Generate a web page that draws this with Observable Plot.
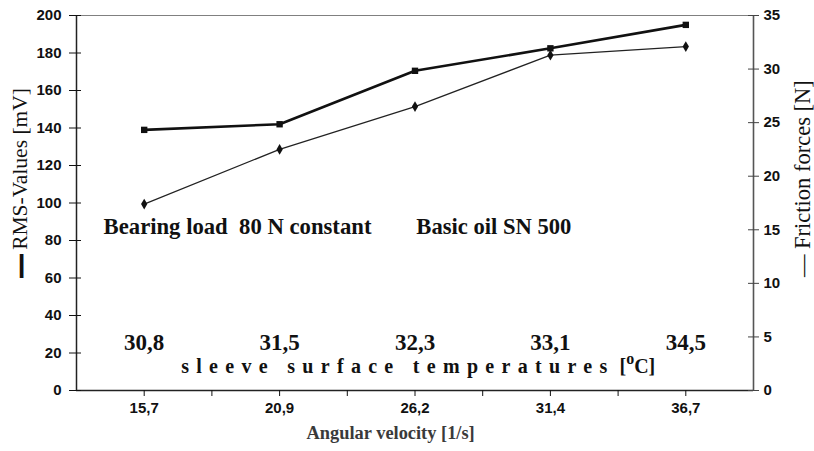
<!DOCTYPE html>
<html><head><meta charset="utf-8">
<script src="https://cdn.jsdelivr.net/npm/d3@7"></script>
<script src="https://cdn.jsdelivr.net/npm/@observablehq/plot@0.6"></script>
<style>
body{margin:0;background:#fff}
svg{display:block}
svg text{white-space:pre}
</style>
</head><body><div id="chart"></div>
<script>
// ---- data ----
const velocities = ["15,7", "20,9", "26,2", "31,4", "36,7"];
const temperatures = ["30,8", "31,5", "32,3", "33,1", "34,5"];
const rmsValues = [139, 142, 170.5, 182.5, 195];
const frictionValues = [17.4, 22.5, 26.5, 31.3, 32.1];
const rmsTicks = [0, 20, 40, 60, 80, 100, 120, 140, 160, 180, 200];
const frictionTicks = [0, 5, 10, 15, 20, 25, 30, 35];
const rmsMax = 200, frictionMax = 35;
const noteLoad = "Bearing load  80 N constant";
const noteOil = "Basic oil SN 500";
const tempTitle = "sleeve surface temperatures";
const tempUnit = "[oC]";
const xTitle = "Angular velocity [1/s]";
const yLeftTitle = "— RMS-Values [mV]";
const yRightTitle = "— Friction forces [N]";

// ---- derived tables ----
const toLeft = v => v * rmsMax / frictionMax;
const rmsData = velocities.map((v, i) => ({i, value: rmsValues[i]}));
const fricData = velocities.map((v, i) => ({i, value: toLeft(frictionValues[i])}));
const xTicks = d3.range(0, 4.01, 0.5);
const rightTicks = frictionTicks.map(toLeft);

const serif = "Liberation Serif, Times New Roman, serif";
const sans = "Liberation Sans, Arial, sans-serif";

const chart = Plot.plot({
  width: 814, height: 451,
  marginLeft: 76, marginRight: 61, marginTop: 15, marginBottom: 61,
  x: {type: "linear", domain: [-0.5, 4.5]},
  y: {domain: [0, rmsMax]},
  style: {background: "white", color: "#111", overflow: "visible"},
  marks: [
    Plot.ruleY([rmsMax], {stroke: "#808080", strokeWidth: 1.2}),
    Plot.ruleX([4.5], {stroke: "#555", strokeWidth: 1.6}),
    Plot.ruleY([0], {stroke: "#222", strokeWidth: 1.5}),
    Plot.ruleX([-0.5], {stroke: "#222", strokeWidth: 1.5}),
    // x axis
    Plot.axisX(xTicks, {tickSize: 6, tickPadding: 6, label: null,
      tickFormat: d => Number.isInteger(d) ? velocities[d] : "",
      fontSize: 15, fontWeight: "bold", fontFamily: sans}),
    // left axis
    Plot.axisY(rmsTicks, {tickSize: 12, dx: 5, tickFormat: () => "", label: null}),
    Plot.axisY(rmsTicks, {tickSize: 0, tickPadding: 15, label: null,
      fontSize: 15, fontWeight: "bold", fontFamily: sans}),
    // right axis
    Plot.axisY(rightTicks, {anchor: "right", tickSize: 11, dx: -6, tickFormat: () => "", label: null, stroke: "#444"}),
    Plot.axisY(rightTicks, {anchor: "right", tickSize: 0, tickPadding: 10, label: null,
      tickFormat: d => Math.round(d * frictionMax / rmsMax),
      fontSize: 15, fontWeight: "bold", fontFamily: sans}),
    // series
    Plot.line(fricData, {x: "i", y: "value", stroke: "#222", strokeWidth: 1.2}),
    Plot.dot(fricData, {x: "i", y: "value", symbol: "diamond", r: 3.3, fill: "#111"}),
    Plot.line(rmsData, {x: "i", y: "value", stroke: "#111", strokeWidth: 2.6}),
    Plot.dot(rmsData, {x: "i", y: "value", symbol: "square", r: 3.6, fill: "#111"}),
    // annotations
    Plot.text([noteLoad], {x: -0.3, y: 87.5, text: d => d, textAnchor: "start",
      fontSize: 22.7, fontWeight: "bold", fontFamily: serif}),
    Plot.text([noteOil], {x: 2.01, y: 87.5, text: d => d, textAnchor: "start",
      fontSize: 22.6, fontWeight: "bold", fontFamily: serif}),
    Plot.text(temperatures, {x: (d, i) => i, y: 25.6, text: d => d,
      fontSize: 23, fontWeight: "bold", fontFamily: serif}),
    Plot.text([tempTitle + " " + tempUnit], {x: 0.273, y: 12.8, text: d => d, textAnchor: "start",
      fontSize: 20, fontWeight: "bold", fontFamily: serif}),
    Plot.text([xTitle], {x: 1.82, frameAnchor: "bottom", dy: 48, text: d => d,
      fontSize: 18.4, fontWeight: "bold", fontFamily: serif, fill: "#3a3a3a"}),
    Plot.text([yLeftTitle], {frameAnchor: "left", textAnchor: "middle", dx: -56, y: 111, rotate: -90, text: d => d,
      fontSize: 21.5, fontFamily: serif}),
    Plot.text([yRightTitle], {frameAnchor: "right", textAnchor: "middle", dx: 49, y: 113, rotate: -90, text: d => d,
      fontSize: 22.5, fontFamily: serif})
  ]
});

// typographic refinements (letter spacing, superscript, bold dash)
const NS = "http://www.w3.org/2000/svg";
function span(parent, txt, attrs) {
  const s = document.createElementNS(NS, "tspan");
  s.textContent = txt;
  for (const k in attrs) s.setAttribute(k, attrs[k]);
  parent.appendChild(s);
  return s;
}
chart.querySelectorAll("text").forEach(t => {
  const s = t.textContent;
  if (s === tempTitle + " " + tempUnit) {
    t.textContent = "";
    span(t, tempTitle, {"letter-spacing": "7.3px"});
    span(t, " [", {});
    span(t, "o", {"dy": "-9", "font-size": "16"});
    span(t, "C]", {"dy": "9"});
  } else if (s === yLeftTitle) {
    t.textContent = "";
    span(t, "—", {"font-weight": "bold", "stroke": "currentColor", "stroke-width": "2.2"});
    span(t, yLeftTitle.slice(1), {});
  }
});

document.getElementById("chart").appendChild(chart);
</script>
</body></html>
